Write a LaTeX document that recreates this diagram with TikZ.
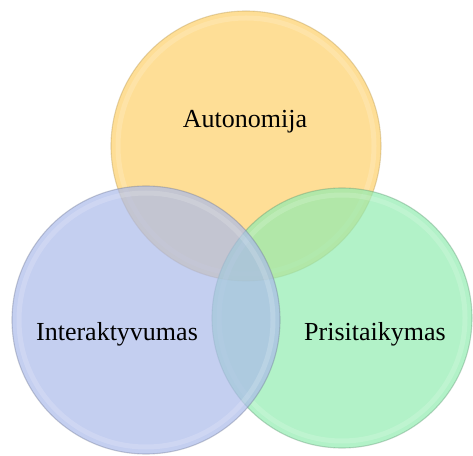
\documentclass[tikz,border=0pt]{standalone}
\usepackage{fontspec}
\setmainfont{Liberation Serif}

% base colours, used with fill opacity 0.7 on white
\definecolor{autoYellow}{RGB}{254,208,105}
\definecolor{adaptGreen}{RGB}{145,236,176}
\definecolor{interBlue}{RGB}{171,186,234}

\begin{document}
\begin{tikzpicture}[x=1pt, y=1pt,
  setcircle/.style={circle, inner sep=0pt, minimum size=#1, line width=1.1pt,
    fill opacity=0.7, draw opacity=0.35},
  glow/.style={white, line width=5pt, opacity=0.16},
  setlabel/.style={anchor=base, font=\fontsize{26}{30}\selectfont}]
  \useasboundingbox (0,0) rectangle (473,455);
  % three overlapping sets: top first, then right, left on top
  \node[setcircle=270, fill=autoYellow, draw=autoYellow!70!black] (auto) at (246,309) {};
  \draw[glow] (auto.center) circle (128);
  \node[setcircle=260, fill=adaptGreen, draw=adaptGreen!60!black] (adapt) at (342,137) {};
  \draw[glow] (adapt.center) circle (123);
  \node[setcircle=268, fill=interBlue, draw=interBlue!60!black] (inter) at (146,135) {};
  \draw[glow] (inter.center) circle (127);
  % labels
  \node[setlabel] (autolbl) at (245,327) {Autonomija};
  \node[setlabel] (interlbl) at (117,115) {Interaktyvumas};
  \node[setlabel] (adaptlbl) at (375,115) {Prisitaikymas};
\end{tikzpicture}
\end{document}
